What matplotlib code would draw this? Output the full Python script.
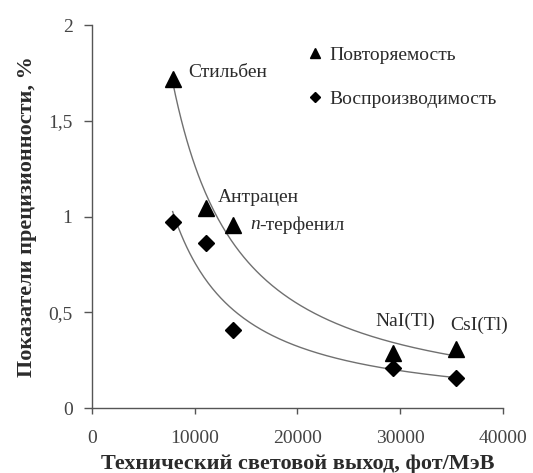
import numpy as np
import matplotlib
matplotlib.use('Agg')
import matplotlib.pyplot as plt
from matplotlib.lines import Line2D

plt.rcParams['font.family'] = ['Liberation Serif', 'DejaVu Serif']

# scintillators and technical light output, photons/MeV
names = ['Стильбен', 'Антрацен', 'п-терфенил', 'NaI(Tl)', 'CsI(Tl)']
light_output = np.array([7850, 11100, 13700, 29300, 35400])
repeatability = np.array([1.72, 1.045, 0.955, 0.287, 0.31])
reproducibility = np.array([0.973, 0.86, 0.407, 0.21, 0.157])

# label anchor points (data coords)
label_x = [9340, 12260, 15380, 27540, 34840]
label_y = [1.75, 1.10, 0.956, 0.45, 0.433]

y_ticks = [0, 0.5, 1, 1.5, 2]
y_ticklabels = ['0', '0,5', '1', '1,5', '2']
x_ticks = [0, 10000, 20000, 30000, 40000]

txt = '#2b2b2b'
fs = 14


def power_fit(x, y):
    # y = a * x^b, least squares in log-log
    b, ln_a = np.polyfit(np.log(x), np.log(y), 1)
    xs = np.linspace(x.min(), x.max(), 200)
    return xs, np.exp(ln_a) * xs ** b


fig = plt.figure(figsize=(5.33, 4.73), dpi=100)
ax = fig.add_axes([0.1726, 0.1374, 0.7711, 0.8097])

for yv in (repeatability, reproducibility):
    xs, ys = power_fit(light_output, yv)
    ax.plot(xs, ys, color='#707070', lw=1.0, zorder=1)

ax.plot(light_output, repeatability, ls='none', marker='^', ms=11,
        color='black', zorder=3)
ax.plot(light_output, reproducibility, ls='none', marker='D', ms=8,
        color='black', zorder=3)

for i, name in enumerate(names):
    if name.startswith('п-'):
        ax.text(label_x[i], label_y[i], 'п', style='italic', fontsize=fs,
                color=txt, va='center', ha='left')
        ax.text(label_x[i] + 900, label_y[i], name[1:], fontsize=fs,
                color=txt, va='center', ha='left')
    else:
        ax.text(label_x[i], label_y[i], name, fontsize=fs, color=txt,
                va='center', ha='left')

handles = [
    Line2D([], [], ls='none', marker='^', ms=7, color='black'),
    Line2D([], [], ls='none', marker='D', ms=5, color='black'),
]
ax.legend(handles, ['Повторяемость', 'Воспроизводимость'], loc='upper left',
          bbox_to_anchor=(0.48, 0.99), frameon=False, fontsize=fs,
          labelspacing=1.35, handlelength=0.8, handletextpad=0.35,
          labelcolor=txt)

ax.set_xlim(0, 40000)
ax.set_ylim(0, 2)
ax.set_xticks(x_ticks)
ax.set_xticklabels([str(v) for v in x_ticks])
ax.set_yticks(y_ticks)
ax.set_yticklabels(y_ticklabels)
ax.tick_params(axis='both', labelsize=fs, labelcolor='#444444',
               color='#555555', width=1.0)
ax.tick_params(axis='x', direction='out', length=4, pad=12)
ax.tick_params(axis='y', direction='out', length=6, pad=8)

for side in ('top', 'right'):
    ax.spines[side].set_visible(False)
for side in ('left', 'bottom'):
    ax.spines[side].set_color('#555555')
    ax.spines[side].set_linewidth(1.0)

ax.set_xlabel('Технический световой выход, фот/МэВ', fontsize=16,
              fontweight='bold', color=txt, labelpad=5)
ax.set_ylabel('Показатели прецизионности, %', fontsize=16,
              fontweight='bold', color=txt, labelpad=8)

fig.savefig('out.png', dpi=100)
